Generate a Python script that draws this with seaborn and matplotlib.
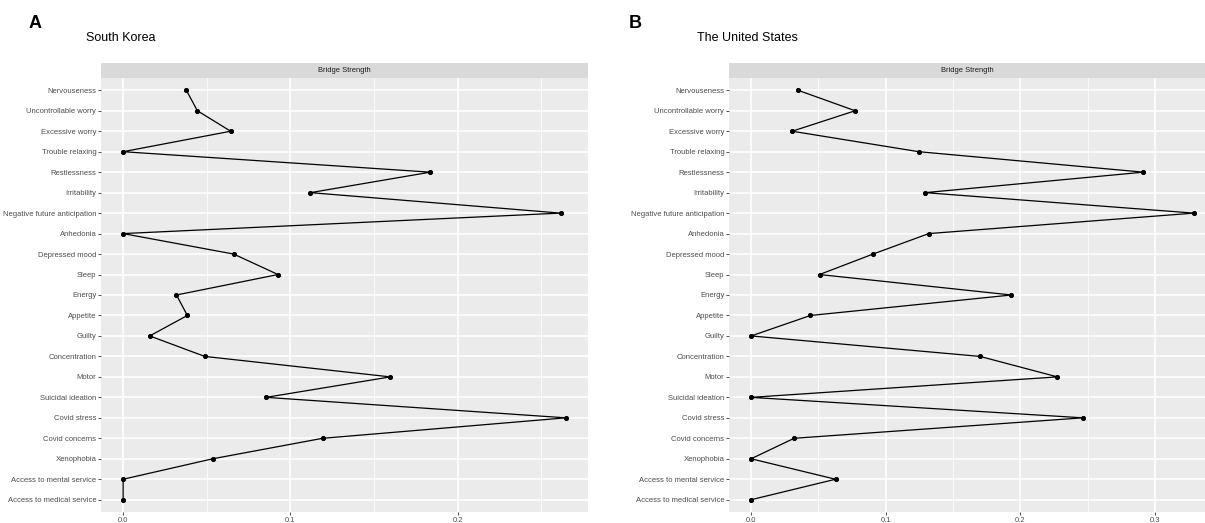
import numpy as np
import pandas as pd
import matplotlib
matplotlib.use("Agg")
import matplotlib.pyplot as plt
from matplotlib.ticker import MultipleLocator
import seaborn as sns

nodes = ["Nervouseness", "Uncontrollable worry", "Excessive worry", "Trouble relaxing",
         "Restlessness", "Irritability", "Negative future anticipation", "Anhedonia",
         "Depressed mood", "Sleep", "Energy", "Appetite", "Guilty", "Concentration",
         "Motor", "Suicidal ideation", "Covid stress", "Covid concerns", "Xenophobia",
         "Access to mental service", "Access to medical service"]

korea = [0.0378, 0.0444, 0.0643, 0.0, 0.1837, 0.1120, 0.2616, 0.0, 0.0661, 0.0926,
         0.0319, 0.0384, 0.0159, 0.0488, 0.1598, 0.0855, 0.2648, 0.1193, 0.0536, 0.0, 0.0]

usa = [0.0349, 0.0773, 0.0305, 0.1246, 0.2915, 0.1293, 0.3291, 0.1320, 0.0906, 0.0508,
       0.1934, 0.0441, 0.0, 0.1701, 0.2276, 0.0, 0.2467, 0.0319, 0.0, 0.0627, 0.0]

panel_letters = ["A", "B"]
panel_titles = ["South Korea", "The United States"]
strip_label = "Bridge Strength"

sns.set_theme(style="darkgrid")
plt.rcParams["font.family"] = ["Liberation Sans", "DejaVu Sans"]

W, H = 1205, 523
fig = plt.figure(figsize=(W / 100, H / 100), dpi=100)

def fx(px):
    return px / W

def fy(py):
    return 1 - py / H

panels = [
    dict(vals=korea, left=101, right=588, xlim=(-0.01324, 0.278), letter_x=29, title_x=86),
    dict(vals=usa, left=729, right=1205, xlim=(-0.01646, 0.3373), letter_x=629, title_x=697),
]
top, bottom, strip_top = 78, 512, 63

for i, p in enumerate(panels):
    df = pd.DataFrame({"node": nodes, "value": p["vals"]})
    ax = fig.add_axes([fx(p["left"]), fy(bottom), fx(p["right"] - p["left"]), (bottom - top) / H])
    ax.set_facecolor("#EBEBEB")
    sns.pointplot(data=df, x="value", y="node", order=nodes, color="black",
                  markers="o", markersize=3.0, linewidth=0.9, ax=ax, errorbar=None)
    ax.set_xlim(*p["xlim"])
    ax.set_ylim(len(nodes) - 0.4, -0.6)
    ax.xaxis.set_major_locator(MultipleLocator(0.1))
    ax.xaxis.set_minor_locator(MultipleLocator(0.05))
    ax.xaxis.set_major_formatter(matplotlib.ticker.FormatStrFormatter("%.1f"))
    ax.grid(True, which="major", color="white", linewidth=1.1)
    ax.grid(True, which="minor", axis="x", color="white", linewidth=0.55)
    ax.yaxis.grid(True, which="major", color="white", linewidth=1.1)
    ax.set_axisbelow(True)
    for s in ax.spines.values():
        s.set_visible(False)
    ax.set_xlabel("")
    ax.set_ylabel("")
    ax.tick_params(axis="both", which="major", labelsize=5.5, labelcolor="#4D4D4D",
                   color="#333333", length=2.2, width=0.6, pad=1.2, left=True, bottom=True)
    ax.tick_params(axis="x", which="minor", length=0)
    # strip
    sax = fig.add_axes([fx(p["left"]), fy(top), fx(p["right"] - p["left"]), (top - strip_top) / H])
    sax.set_facecolor("#D9D9D9")
    sax.set_xticks([])
    sax.set_yticks([])
    for s in sax.spines.values():
        s.set_visible(False)
    sax.text(0.5, 0.5, strip_label, ha="center", va="center", fontsize=5.4, color="#1A1A1A",
             transform=sax.transAxes)
    fig.text(fx(p["letter_x"]), fy(23), panel_letters[i], fontsize=13, fontweight="bold",
             ha="left", va="center", color="black")
    fig.text(fx(p["title_x"]), fy(38), panel_titles[i], fontsize=9,
             ha="left", va="center", color="black")

fig.savefig("out.png", dpi=100, facecolor="white")
